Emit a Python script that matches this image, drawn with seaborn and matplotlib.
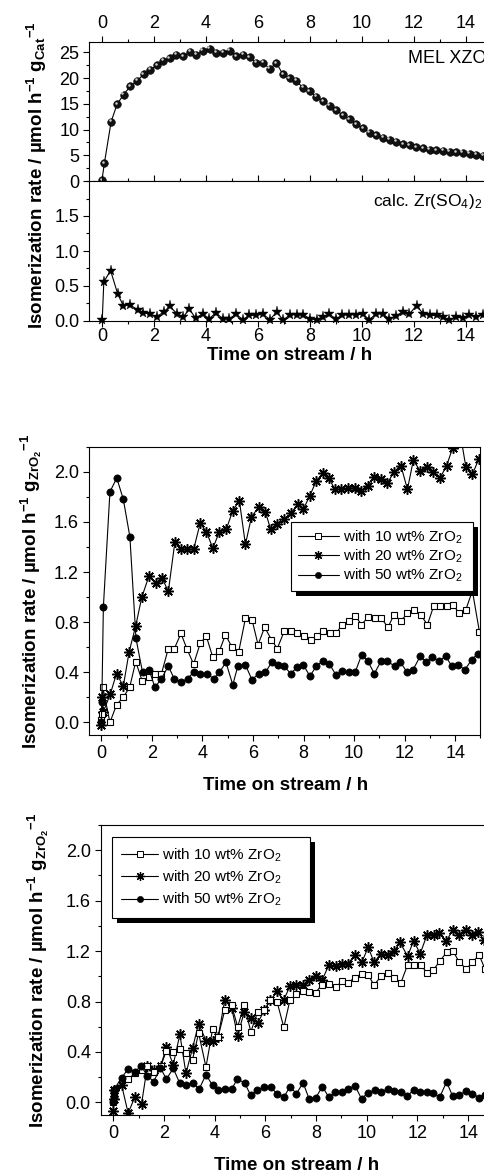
import matplotlib
matplotlib.use("Agg")
import matplotlib.pyplot as plt
import seaborn as sns
from matplotlib.lines import Line2D
from matplotlib.patches import Rectangle
from matplotlib.ticker import MultipleLocator
from matplotlib.transforms import ScaledTranslation, IdentityTransform

# ---------------- data ----------------
# Panel A, MEL XZO catalyst (rate per g catalyst)
mel_t = [0.0, 0.09, 0.35, 0.58, 0.83, 1.09, 1.35, 1.6, 1.86, 2.12,
         2.35, 2.6, 2.86, 3.12, 3.4, 3.63, 3.88, 4.14, 4.4, 4.65,
         4.91, 5.17, 5.42, 5.68, 5.94, 6.19, 6.45, 6.71, 6.96, 7.22,
         7.47, 7.73, 7.99, 8.24, 8.5, 8.76, 9.01, 9.27, 9.53, 9.78,
         10.04, 10.29, 10.55, 10.81, 11.06, 11.32, 11.58, 11.83, 12.09, 12.35,
         12.6, 12.86, 13.12, 13.37, 13.63, 13.88, 14.14, 14.4, 14.65, 14.91]
mel_rate = [0.2, 3.4, 11.5, 14.9, 16.8, 18.4, 19.5, 20.7, 21.6, 22.5,
            23.4, 23.9, 24.5, 24.2, 25.1, 24.5, 25.3, 25.7, 24.9, 24.9,
            25.3, 24.3, 24.5, 24.0, 23.0, 23.0, 21.8, 22.9, 20.7, 20.0,
            19.5, 18.1, 17.4, 16.4, 15.5, 14.6, 13.7, 12.8, 12.0, 11.0,
            10.2, 9.4, 8.9, 8.4, 8.0, 7.6, 7.2, 6.9, 6.6, 6.4,
            6.1, 6.0, 5.9, 5.7, 5.6, 5.5, 5.3, 5.1, 4.9, 4.8]

# Panel A, calcined Zr(SO4)2
zs_t = [0.01, 0.07, 0.33, 0.61, 0.82, 1.08, 1.37, 1.59, 1.85, 2.1,
        2.38, 2.6, 2.9, 3.13, 3.36, 3.6, 3.87, 4.13, 4.38, 4.64,
        4.9, 5.15, 5.41, 5.67, 5.92, 6.18, 6.46, 6.72, 6.97, 7.23,
        7.49, 7.74, 8.0, 8.26, 8.5, 8.74, 8.99, 9.25, 9.51, 9.77,
        10.03, 10.28, 10.54, 10.8, 11.05, 11.3, 11.56, 11.82, 12.1, 12.36,
        12.6, 12.87, 13.1, 13.36, 13.6, 13.87, 14.13, 14.38, 14.64, 14.9]
zs_rate = [0.02, 0.56, 0.72, 0.38, 0.22, 0.23, 0.16, 0.12, 0.10, 0.06,
           0.13, 0.21, 0.10, 0.06, 0.17, 0.04, 0.10, 0.03, 0.12, 0.03,
           0.03, 0.10, 0.02, 0.08, 0.08, 0.10, 0.02, 0.13, 0.01, 0.09,
           0.09, 0.09, 0.03, 0.02, 0.06, 0.10, 0.03, 0.08, 0.09, 0.09,
           0.10, 0.02, 0.10, 0.10, 0.03, 0.07, 0.13, 0.10, 0.22, 0.10,
           0.08, 0.08, 0.06, 0.01, 0.06, 0.04, 0.09, 0.06, 0.09, 0.08]

# Panel B (rate per g ZrO2)
b10_t = [0.0, 0.03, 0.06, 0.34, 0.6, 0.86, 1.12, 1.36, 1.62, 1.88,
         2.13, 2.38, 2.65, 2.89, 3.15, 3.38, 3.65, 3.91, 4.15, 4.41,
         4.67, 4.91, 5.17, 5.43, 5.7, 5.96, 6.2, 6.46, 6.73, 6.96,
         7.24, 7.5, 7.76, 8.02, 8.28, 8.52, 8.78, 9.04, 9.28, 9.53,
         9.79, 10.05, 10.29, 10.55, 10.82, 11.08, 11.34, 11.58, 11.85, 12.11,
         12.37, 12.63, 12.9, 13.15, 13.41, 13.67, 13.91, 14.16, 14.42, 14.68, 14.96]
b10_rate = [0.02, 0.07, 0.28, 0.0, 0.14, 0.2, 0.28, 0.485, 0.33, 0.36,
            0.39, 0.39, 0.59, 0.59, 0.71, 0.59, 0.465, 0.63, 0.69, 0.52,
            0.57, 0.70, 0.60, 0.56, 0.83, 0.82, 0.62, 0.76, 0.66, 0.59,
            0.73, 0.73, 0.71, 0.69, 0.66, 0.69, 0.73, 0.71, 0.71, 0.78,
            0.81, 0.85, 0.78, 0.84, 0.83, 0.83, 0.76, 0.86, 0.81, 0.87,
            0.90, 0.86, 0.78, 0.93, 0.93, 0.93, 0.94, 0.87, 0.90, 1.05, 0.72]

b20_t = [0.0, 0.03, 0.08, 0.36, 0.6, 0.87, 1.1, 1.36, 1.6, 1.88,
         2.15, 2.41, 2.65, 2.91, 3.15, 3.38, 3.65, 3.91, 4.16, 4.41,
         4.67, 4.94, 5.2, 5.46, 5.7, 5.94, 6.23, 6.49, 6.7, 6.96,
         7.24, 7.5, 7.77, 7.99, 8.25, 8.51, 8.78, 9.0, 9.24, 9.5,
         9.77, 10.03, 10.29, 10.53, 10.79, 11.06, 11.32, 11.58, 11.85, 12.11,
         12.34, 12.61, 12.87, 13.13, 13.4, 13.66, 13.9, 14.16, 14.42, 14.68, 14.93]
b20_rate = [-0.02, 0.20, 0.085, 0.23, 0.39, 0.29, 0.565, 0.77, 1.0, 1.165,
            1.11, 1.15, 1.045, 1.44, 1.38, 1.38, 1.38, 1.59, 1.52, 1.39,
            1.52, 1.54, 1.69, 1.77, 1.42, 1.64, 1.72, 1.68, 1.54, 1.58,
            1.62, 1.67, 1.74, 1.70, 1.81, 1.93, 1.99, 1.95, 1.86, 1.86,
            1.87, 1.87, 1.85, 1.89, 1.96, 1.94, 1.91, 2.00, 2.05, 1.86,
            2.09, 2.01, 2.04, 2.00, 1.95, 2.05, 2.19, 2.35, 2.04, 1.98, 2.10]

b50_t = [0.0, 0.02, 0.08, 0.34, 0.61, 0.87, 1.13, 1.37, 1.63, 1.89,
         2.12, 2.38, 2.65, 2.88, 3.15, 3.41, 3.65, 3.91, 4.17, 4.44,
         4.67, 4.93, 5.2, 5.4, 5.7, 5.96, 6.22, 6.49, 6.74, 6.98,
         7.23, 7.49, 7.75, 7.99, 8.25, 8.51, 8.75, 9.01, 9.28, 9.54,
         9.78, 10.04, 10.3, 10.54, 10.8, 11.07, 11.3, 11.6, 11.83, 12.1,
         12.33, 12.62, 12.86, 13.09, 13.36, 13.62, 13.86, 14.12, 14.38, 14.65, 14.9]
b50_rate = [0.0, 0.16, 0.92, 1.84, 1.95, 1.78, 1.48, 0.67, 0.40, 0.42,
            0.28, 0.35, 0.45, 0.35, 0.32, 0.35, 0.40, 0.39, 0.39, 0.35,
            0.40, 0.48, 0.30, 0.45, 0.46, 0.34, 0.39, 0.40, 0.48, 0.46,
            0.45, 0.39, 0.44, 0.46, 0.37, 0.45, 0.49, 0.47, 0.38, 0.41,
            0.40, 0.40, 0.54, 0.49, 0.39, 0.49, 0.49, 0.45, 0.48, 0.40,
            0.42, 0.53, 0.48, 0.52, 0.49, 0.53, 0.45, 0.46, 0.42, 0.50, 0.55]

# Panel C (rate per g ZrO2)
c10_t = [0.0, 0.02, 0.04, 0.59, 0.85, 1.12, 1.35, 1.62, 1.88, 2.1,
         2.37, 2.63, 2.87, 3.13, 3.37, 3.66, 3.92, 4.14, 4.4, 4.67,
         4.91, 5.17, 5.43, 5.7, 5.96, 6.2, 6.46, 6.73, 6.97, 7.23,
         7.49, 7.72, 7.98, 8.24, 8.51, 8.77, 9.03, 9.27, 9.53, 9.8,
         10.06, 10.29, 10.56, 10.82, 11.09, 11.35, 11.61, 11.87, 12.13, 12.37,
         12.63, 12.88, 13.15, 13.41, 13.65, 13.93, 14.17, 14.43, 14.66, 14.92]
c10_rate = [0.0, 0.05, 0.1, 0.185, 0.23, 0.26, 0.29, 0.24, 0.29, 0.41,
            0.40, 0.42, 0.39, 0.34, 0.55, 0.28, 0.58, 0.52, 0.73, 0.77,
            0.60, 0.775, 0.56, 0.72, 0.73, 0.81, 0.80, 0.595, 0.81, 0.86,
            0.88, 0.875, 0.87, 0.934, 0.94, 0.915, 0.96, 0.95, 0.99, 1.02,
            1.01, 0.93, 1.0, 1.03, 0.99, 0.95, 1.09, 1.09, 1.09, 1.03,
            1.05, 1.12, 1.19, 1.2, 1.11, 1.06, 1.11, 1.17, 1.06, 1.1]

c20_t = [0.0, 0.02, 0.04, 0.33, 0.59, 0.85, 1.12, 1.35, 1.62, 1.88,
         2.1, 2.37, 2.63, 2.87, 3.13, 3.37, 3.66, 3.92, 4.14, 4.4,
         4.67, 4.91, 5.17, 5.43, 5.7, 5.96, 6.2, 6.46, 6.72, 6.97,
         7.23, 7.49, 7.72, 7.98, 8.24, 8.51, 8.77, 9.01, 9.27, 9.53,
         9.8, 10.06, 10.29, 10.56, 10.82, 11.09, 11.31, 11.61, 11.85, 12.11,
         12.38, 12.64, 12.87, 13.14, 13.4, 13.63, 13.9, 14.16, 14.39, 14.63, 14.9]
c20_rate = [-0.07, 0.03, 0.1, 0.14, -0.085, 0.04, -0.01, 0.29, 0.26, 0.29,
            0.44, 0.30, 0.54, 0.23, 0.43, 0.625, 0.49, 0.49, 0.52, 0.81,
            0.75, 0.53, 0.72, 0.67, 0.63, 0.73, 0.81, 0.88, 0.81, 0.92,
            0.93, 0.93, 0.97, 1.0, 0.97, 1.09, 1.08, 1.1, 1.1, 1.17,
            1.11, 1.23, 1.11, 1.18, 1.17, 1.2, 1.27, 1.16, 1.28, 1.18,
            1.33, 1.33, 1.34, 1.28, 1.37, 1.33, 1.37, 1.33, 1.35, 1.29, 1.31]

c50_t = [0.0, 0.02, 0.04, 0.06, 0.33, 0.59, 0.85, 1.1, 1.35, 1.6,
         1.86, 2.1, 2.37, 2.62, 2.88, 3.13, 3.39, 3.66, 3.92, 4.14,
         4.4, 4.67, 4.9, 5.18, 5.43, 5.69, 5.96, 6.21, 6.46, 6.73,
         6.97, 7.23, 7.49, 7.73, 7.99, 8.25, 8.51, 8.76, 9.02, 9.28,
         9.54, 9.8, 10.05, 10.31, 10.58, 10.83, 11.09, 11.35, 11.6, 11.85,
         12.11, 12.38, 12.62, 12.88, 13.15, 13.39, 13.64, 13.9, 14.16, 14.43,
         14.66, 14.92]
c50_rate = [0.0, 0.04, 0.08, 0.11, 0.195, 0.265, 0.24, 0.29, 0.21, 0.165,
            0.275, 0.185, 0.27, 0.155, 0.135, 0.155, 0.105, 0.22, 0.135, 0.095,
            0.11, 0.105, 0.185, 0.155, 0.055, 0.1, 0.12, 0.12, 0.07, 0.04,
            0.125, 0.07, 0.155, 0.027, 0.037, 0.125, 0.04, 0.08, 0.08, 0.11,
            0.13, 0.027, 0.078, 0.095, 0.08, 0.105, 0.09, 0.08, 0.05, 0.1,
            0.08, 0.085, 0.072, 0.042, 0.163, 0.048, 0.055, 0.09, 0.07, 0.038,
            0.06, 0.07]

series_labels = ["with 10 wt% ZrO$_2$", "with 20 wt% ZrO$_2$", "with 50 wt% ZrO$_2$"]
x_ticks = [0, 2, 4, 6, 8, 10, 12, 14]

# ---------------- style ----------------
sns.set_style("ticks")
plt.rcParams.update({
    "font.family": ["Liberation Sans", "DejaVu Sans"],
    "mathtext.fontset": "custom",
    "mathtext.rm": "Liberation Sans",
    "mathtext.it": "Liberation Sans:italic",
    "mathtext.bf": "Liberation Sans:bold",
    "axes.edgecolor": "black",
    "axes.linewidth": 0.8,
    "xtick.color": "black",
    "ytick.color": "black",
    "text.color": "black",
    "axes.labelcolor": "black",
})

W, H = 485, 1173
fig = plt.figure(figsize=(W / 100, H / 100), dpi=100)


def box(l, t, r, b):
    return [l / W, 1 - b / H, (r - l) / W, (b - t) / H]


TICK_FS = 13
LABEL_FS = 13.5


def style_ticks(ax, top=False, bottom=True, labeltop=False, labelbottom=True):
    ax.tick_params(axis="both", which="major", direction="out", length=4.5,
                   width=0.8, labelsize=TICK_FS, pad=2.5)
    ax.tick_params(axis="both", which="minor", direction="out", length=2.5, width=0.8)
    ax.tick_params(axis="x", which="both", top=top, bottom=bottom,
                   labeltop=labeltop, labelbottom=labelbottom)
    ax.tick_params(axis="y", which="both", left=True, right=False)
    ax.set_xlim(-0.5, 15)
    ax.set_xticks(x_ticks)
    ax.xaxis.set_minor_locator(MultipleLocator(1))
    for s in ax.spines.values():
        s.set_visible(True)
        s.set_linewidth(0.8)
        s.set_color("black")
    ax.grid(False)


LW = 0.8

# ---------------- panel A ----------------
axA1 = fig.add_axes(box(89, 42, 492, 181))
axA2 = fig.add_axes(box(89, 181, 492, 321))

sns.lineplot(x=mel_t, y=mel_rate, ax=axA1, estimator=None, sort=False, color="black",
             lw=LW, marker="o", ms=5.5, markerfacecolor="#111111",
             markeredgecolor="black", markeredgewidth=0.4, clip_on=False)
hl = axA1.transData + ScaledTranslation(-1.0 / 72, 1.0 / 72, fig.dpi_scale_trans)
axA1.plot(mel_t, mel_rate, ls="none", marker="o", ms=1.8, color="#cfcfcf",
          markeredgewidth=0, transform=hl, clip_on=False, zorder=3)
axA1.set_ylim(0, 27)
axA1.set_yticks([0, 5, 10, 15, 20, 25])
axA1.yaxis.set_minor_locator(MultipleLocator(2.5))
style_ticks(axA1, top=True, bottom=True, labeltop=True, labelbottom=False)
axA1.tick_params(axis="x", which="major", pad=3.0)
axA1.set_xlabel("")
axA1.set_ylabel("")
axA1.text(11.77, 23.8, "MEL XZO", ha="left", va="center", fontsize=13)

sns.lineplot(x=zs_t, y=zs_rate, ax=axA2, estimator=None, sort=False, color="black",
             lw=LW, marker="*", ms=8, markerfacecolor="black",
             markeredgecolor="black", markeredgewidth=0.3, clip_on=False)
axA2.set_ylim(0, 2.0)
axA2.set_yticks([0.0, 0.5, 1.0, 1.5])
axA2.set_yticklabels(["0.0", "0.5", "1.0", "1.5"])
axA2.yaxis.set_minor_locator(MultipleLocator(0.25))
style_ticks(axA2, top=True, bottom=True, labeltop=False, labelbottom=True)
axA2.tick_params(axis="x", which="major", pad=0.5)
axA2.set_xlabel("")
axA2.set_ylabel("")
axA2.text(10.42, 1.71, "calc. Zr(SO$_4$)$_2$", ha="left", va="center", fontsize=12.5)

fig.text(37 / W, 1 - 175 / H,
         r"Isomerization rate / µmol h$^{\mathbf{-1}}$ g$_{\mathbf{Cat}}$$^{\mathbf{-1}}$",
         rotation=90, ha="center", va="center", fontsize=LABEL_FS, fontweight="bold")
fig.text(290 / W, 1 - 356 / H, "Time on stream / h", ha="center", va="center",
         fontsize=LABEL_FS, fontweight="bold")

# ---------------- panels B and C ----------------
SQ = dict(marker="s", ms=5.0, markerfacecolor="white", markeredgecolor="black",
          markeredgewidth=0.8)
AST = dict(marker=(8, 2, 0), ms=7.5, markerfacecolor="black", markeredgecolor="black",
           markeredgewidth=1.1)
DOT = dict(marker="o", ms=5.2, markerfacecolor="black", markeredgecolor="black",
           markeredgewidth=0.5)


def rate_panel(ax, t10, r10, t20, r20, t50, r50):
    sns.lineplot(x=t20, y=r20, ax=ax, estimator=None, sort=False, color="black", lw=LW, **AST)
    sns.lineplot(x=t10, y=r10, ax=ax, estimator=None, sort=False, color="black", lw=LW, **SQ)
    sns.lineplot(x=t50, y=r50, ax=ax, estimator=None, sort=False, color="black", lw=LW, **DOT)
    ax.set_ylim(-0.1, 2.2)
    ax.set_yticks([0.0, 0.4, 0.8, 1.2, 1.6, 2.0])
    ax.set_yticklabels(["0.0", "0.4", "0.8", "1.2", "1.6", "2.0"])
    ax.yaxis.set_minor_locator(MultipleLocator(0.2))
    style_ticks(ax)
    ax.tick_params(axis="x", which="major", pad=3.0)
    ax.set_xlabel("")
    ax.set_ylabel("")


def rate_legend(ax, left, top, width, height, handlelength, labelspacing, borderpad):
    handles = [
        Line2D([], [], color="black", lw=LW, marker="s", ms=4, markerfacecolor="white",
               markeredgecolor="black", markeredgewidth=0.7),
        Line2D([], [], color="black", lw=LW, marker=(8, 2, 0), ms=6.5,
               markeredgecolor="black", markeredgewidth=0.9),
        Line2D([], [], color="black", lw=LW, marker="o", ms=4.5, markerfacecolor="black",
               markeredgecolor="black", markeredgewidth=0.4),
    ]
    leg = ax.legend(handles, series_labels, loc="upper left", mode="expand",
                    bbox_to_anchor=(left / W, 1 - (top + height) / H, width / W, height / H),
                    bbox_transform=fig.transFigure,
                    frameon=True, fancybox=False, framealpha=1, edgecolor="black",
                    borderaxespad=0, fontsize=11, handlelength=handlelength,
                    handletextpad=0.25, labelspacing=labelspacing, borderpad=borderpad)
    leg.get_frame().set_linewidth(0.8)
    return leg


axB = fig.add_axes(box(88.7, 446.7, 480.5, 735))
rate_panel(axB, b10_t, b10_rate, b20_t, b20_rate, b50_t, b50_rate)
legB = rate_legend(axB, 290.7, 521.7, 182.5, 70, 2.7, 0.12, 0.45)
fig.text(31 / W, 1 - 591 / H,
         r"Isomerization rate / µmol h$^{\mathbf{-1}}$ g$_{\mathbf{ZrO}_{\mathbf{2}}}$$^{\mathbf{-1}}$",
         rotation=90, ha="center", va="center", fontsize=LABEL_FS, fontweight="bold")
fig.text(286 / W, 1 - 785 / H, "Time on stream / h", ha="center", va="center",
         fontsize=LABEL_FS, fontweight="bold")

axC = fig.add_axes(box(100.5, 825, 493.5, 1115))
rate_panel(axC, c10_t, c10_rate, c20_t, c20_rate, c50_t, c50_rate)
legC = rate_legend(axC, 111.7, 836.7, 198.5, 80, 2.4, 0.33, 0.62)
fig.text(38 / W, 1 - 970 / H,
         r"Isomerization rate / µmol h$^{\mathbf{-1}}$ g$_{\mathbf{ZrO}_{\mathbf{2}}}$$^{\mathbf{-1}}$",
         rotation=90, ha="center", va="center", fontsize=LABEL_FS, fontweight="bold")
fig.text(297 / W, 1 - 1165 / H, "Time on stream / h", ha="center", va="center",
         fontsize=LABEL_FS, fontweight="bold")

# solid drop shadows behind the legend boxes
fig.canvas.draw()
for ax, leg in ((axB, legB), (axC, legC)):
    bb = leg.get_window_extent()
    ax.add_patch(Rectangle((bb.x0 + 5, bb.y0 - 5), bb.width, bb.height,
                           transform=IdentityTransform(), facecolor="black",
                           edgecolor="none", zorder=4.9, clip_on=False))

fig.savefig("out.png", dpi=100)
